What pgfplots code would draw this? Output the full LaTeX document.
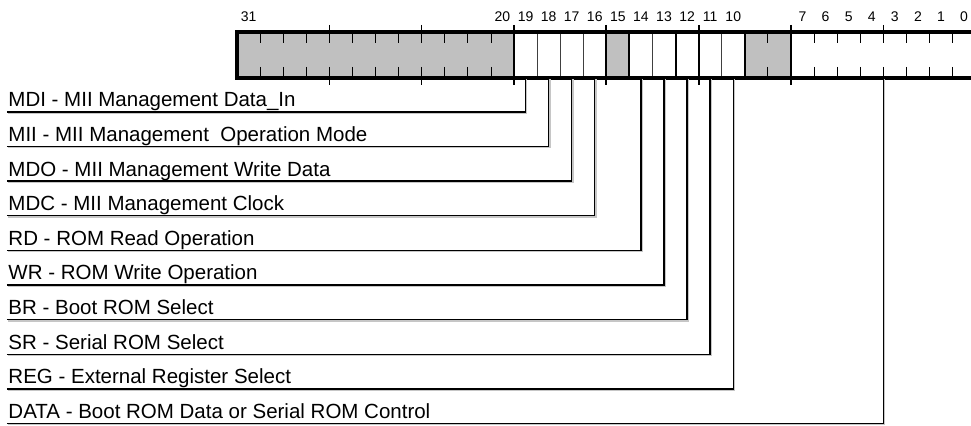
\documentclass[border=0pt]{standalone}
\usepackage{fontspec}
\setmainfont{Liberation Sans}
\usepackage{pgfplots}
\pgfplotsset{compat=1.18}
\definecolor{resv}{HTML}{C0C0C0}

\tikzset{
  leader/.style={black, line width=0.7pt},
  shadow/.style={gray!45, line width=0.7pt, xshift=0.6pt, yshift=-0.6pt},
  tick/.style={black, line width=0.6pt},
  sep/.style={black, line width=1pt},
  thinsep/.style={black!75, line width=0.5pt},
  lbl/.style={anchor=base west, yshift=2.5pt, inner sep=0pt,
              font=\fontsize{10.25}{12}\selectfont},
  bitno/.style={anchor=base, inner sep=0pt, font=\fontsize{7}{8}\selectfont},
}

% 1 px of the reference = 0.5pt; x in bit units (reversed), y in px (reversed)
\newcommand\field[3]{%
  \addplot[shadow] coordinates {(41.97,#2) (#1,#2) (#1,78)};
  \addplot[leader] coordinates {(41.97,#2) (#1,#2) (#1,78)};
  \node[lbl] at (axis cs:41.92,#2) {#3};
}

\begin{document}
\begin{tikzpicture}
\begin{axis}[
    hide axis,
    scale only axis,
    no markers,
    width=485.5pt, height=213pt,
    x dir=reverse, y dir=reverse,
    xmin=0.2, xmax=42.27,
    ymin=0, ymax=426,
  ]
  % reserved bits
  \addplot[fill=resv, draw=none] coordinates {(32,32) (20,32) (20,78) (32,78)};
  \addplot[fill=resv, draw=none] coordinates {(16,32) (15,32) (15,78) (16,78)};
  \addplot[fill=resv, draw=none] coordinates {(10,32) (8,32) (8,78) (10,78)};

  % short ticks inside multi-bit fields
  \pgfplotsinvokeforeach{31,30,29,27,26,25,23,22,21,9,7,6,5,3,2,1}{
    \addplot[tick] coordinates {(#1,32) (#1,43)};
    \addplot[tick] coordinates {(#1,67) (#1,78)};
  }
  % long ticks every 4 bits
  \pgfplotsinvokeforeach{28,24,4}{
    \addplot[tick] coordinates {(#1,25) (#1,43)};
    \addplot[tick] coordinates {(#1,67) (#1,85)};
  }
  % field separators
  \pgfplotsinvokeforeach{20,16,12,8}{
    \addplot[sep] coordinates {(#1,25) (#1,85)};
  }
  \pgfplotsinvokeforeach{15,13,10}{
    \addplot[sep] coordinates {(#1,32) (#1,78)};
  }
  \pgfplotsinvokeforeach{19,18,17,14,11}{
    \addplot[thinsep] coordinates {(#1,32) (#1,78)};
  }
  % register outline
  \addplot[black, line width=2pt] coordinates {(0,32) (32,32) (32,78) (0,78)};

  % bit numbers
  \node[bitno] at (axis cs:31.5,22) {31};
  \pgfplotsinvokeforeach{20,19,18,17,16,15,14,13,12,11,10,7,6,5,4,3,2,1,0}{
    \node[bitno] at (axis cs:#1.5,22) {#1};
  }

  % field descriptions
  \field{19.5}{112}{MDI - MII Management Data\_In}
  \field{18.5}{146.6}{MII - MII Management\ \ Operation Mode}
  \field{17.5}{181.2}{MDO - MII Management Write Data}
  \field{16.5}{215.8}{MDC - MII Management Clock}
  \field{14.5}{250.4}{RD - ROM Read Operation}
  \field{13.5}{285}{WR - ROM Write Operation}
  \field{12.5}{319.6}{BR - Boot ROM Select}
  \field{11.5}{354.2}{SR - Serial ROM Select}
  \field{10.5}{388.8}{REG - External Register Select}
  \field{4}{423.2}{DATA - Boot ROM Data or Serial ROM Control}
\end{axis}
\pgfresetboundingbox
\path[use as bounding box] (current axis.south west) rectangle (current axis.north east);
\end{tikzpicture}
\end{document}
